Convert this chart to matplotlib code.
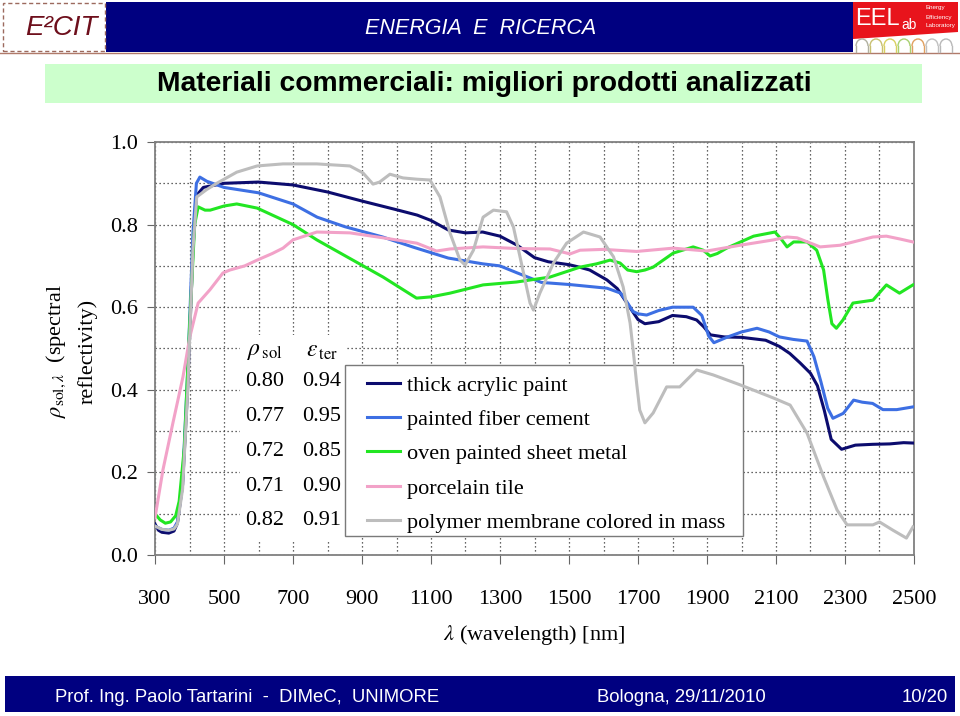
import matplotlib
matplotlib.use('Agg')
import matplotlib.pyplot as plt
from matplotlib.patches import Rectangle, Arc, Polygon
from matplotlib.ticker import MultipleLocator, FormatStrFormatter
from matplotlib.lines import Line2D

plt.rcParams['mathtext.fontset'] = 'stix'

SERIF = ['Liberation Serif', 'DejaVu Serif']
SANS = ['Liberation Sans', 'DejaVu Sans']

# --- data ---
labels = ['thick acrylic paint', 'painted fiber cement', 'oven painted sheet metal',
          'porcelain tile', 'polymer membrane colored in mass']
colors = ['#0c0c6e', '#3d6fe3', '#22e622', '#f2a2c8', '#bdbdbd']
rho_sol = ['0.80', '0.77', '0.72', '0.71', '0.82']
eps_ter = ['0.94', '0.95', '0.85', '0.90', '0.91']
x_ticks = [300, 500, 700, 900, 1100, 1300, 1500, 1700, 1900, 2100, 2300, 2500]

acrylic_x = [300, 310, 320, 340, 355, 365, 380, 395, 410, 420, 440, 500, 600, 700, 800,
             900, 1000, 1060, 1100, 1150, 1200, 1250, 1300, 1350, 1400, 1440, 1500, 1530,
             1560, 1610, 1640, 1660, 1680, 1700, 1720, 1760, 1800, 1840, 1870, 1890, 1910,
             1950, 2000, 2070, 2110, 2140, 2170, 2200, 2220, 2240, 2260, 2290, 2330, 2380,
             2430, 2470, 2500]
acrylic_y = [0.075, 0.06, 0.055, 0.053, 0.058, 0.077, 0.17, 0.41, 0.74, 0.87, 0.89, 0.9,
             0.903, 0.896, 0.879, 0.857, 0.836, 0.823, 0.81, 0.787, 0.78, 0.782, 0.772, 0.75,
             0.72, 0.71, 0.703, 0.697, 0.69, 0.666, 0.645, 0.62, 0.595, 0.57, 0.56, 0.565,
             0.58, 0.577, 0.569, 0.553, 0.533, 0.528, 0.527, 0.52, 0.505, 0.488, 0.465, 0.44,
             0.41, 0.35, 0.28, 0.256, 0.266, 0.268, 0.269, 0.272, 0.271]

fiber_x = [300, 320, 340, 355, 365, 380, 395, 410, 420, 430, 450, 500, 600, 700, 770, 850,
           960, 1050, 1150, 1250, 1300, 1350, 1420, 1500, 1610, 1650, 1670, 1685, 1700, 1725,
           1760, 1800, 1860, 1885, 1905, 1920, 1960, 2000, 2045, 2080, 2110, 2150, 2190,
           2210, 2230, 2250, 2265, 2295, 2325, 2350, 2380, 2410, 2450, 2500]
fiber_y = [0.07, 0.062, 0.06, 0.065, 0.08, 0.18, 0.45, 0.78, 0.9, 0.915, 0.905, 0.89, 0.877,
           0.85, 0.818, 0.795, 0.77, 0.745, 0.719, 0.705, 0.7, 0.683, 0.66, 0.655, 0.646,
           0.634, 0.61, 0.59, 0.584, 0.581, 0.592, 0.6, 0.6, 0.58, 0.53, 0.514, 0.528, 0.54,
           0.549, 0.54, 0.528, 0.522, 0.518, 0.48, 0.42, 0.355, 0.331, 0.343, 0.375, 0.37,
           0.367, 0.352, 0.352, 0.359]

metal_x = [300, 315, 330, 345, 360, 370, 385, 400, 415, 425, 445, 460, 500, 537, 596, 700,
           769, 850, 961, 1058, 1100, 1155, 1251, 1348, 1445, 1532, 1580, 1619, 1648, 1670,
           1696, 1720, 1744, 1802, 1860, 1889, 1909, 1930, 1957, 2035, 2097, 2115, 2132,
           2151, 2190, 2218, 2238, 2250, 2262, 2275, 2294, 2323, 2381, 2420, 2458, 2497]
metal_y = [0.1, 0.085, 0.077, 0.08, 0.095, 0.13, 0.26, 0.55, 0.8, 0.843, 0.835, 0.835,
           0.845, 0.85, 0.84, 0.8, 0.763, 0.725, 0.673, 0.622, 0.625, 0.634, 0.654, 0.661,
           0.673, 0.697, 0.705, 0.714, 0.707, 0.69, 0.686, 0.69, 0.697, 0.731, 0.746, 0.738,
           0.724, 0.73, 0.743, 0.772, 0.782, 0.765, 0.746, 0.758, 0.758, 0.738, 0.69, 0.62,
           0.56, 0.549, 0.569, 0.61, 0.617, 0.654, 0.634, 0.654]

tile_x = [300, 306, 323, 352, 381, 401, 425, 459, 497, 517, 560, 596, 640, 671, 700, 769,
          865, 961, 1059, 1116, 1155, 1251, 1350, 1445, 1503, 1532, 1600, 1696, 1802, 1899,
          1996, 2093, 2132, 2161, 2228, 2286, 2381, 2420, 2460, 2497]
tile_y = [0.09, 0.12, 0.206, 0.32, 0.431, 0.528, 0.61, 0.642, 0.683, 0.69, 0.7, 0.714, 0.73,
          0.743, 0.763, 0.782, 0.78, 0.768, 0.755, 0.736, 0.741, 0.746, 0.742, 0.741, 0.729,
          0.738, 0.74, 0.735, 0.743, 0.736, 0.75, 0.763, 0.77, 0.768, 0.746, 0.75, 0.77,
          0.772, 0.765, 0.758]

membrane_x = [300, 320, 340, 355, 365, 380, 395, 410, 421, 450, 479, 537, 596, 671, 769, 865,
              903, 932, 951, 981, 1019, 1058, 1097, 1126, 1155, 1184, 1199, 1223, 1251, 1281,
              1319, 1339, 1358, 1387, 1397, 1416, 1455, 1493, 1542, 1590, 1629, 1657, 1677,
              1686, 1696, 1705, 1720, 1744, 1783, 1821, 1870, 1918, 1996, 2093, 2141, 2190,
              2238, 2277, 2306, 2381, 2400, 2439, 2478, 2497]
membrane_y = [0.07, 0.062, 0.06, 0.063, 0.075, 0.16, 0.4, 0.74, 0.867, 0.885, 0.9, 0.927,
              0.942, 0.947, 0.947, 0.942, 0.925, 0.898, 0.903, 0.922, 0.913, 0.91, 0.908,
              0.867, 0.78, 0.714, 0.702, 0.738, 0.818, 0.835, 0.831, 0.794, 0.722, 0.61,
              0.593, 0.635, 0.707, 0.755, 0.782, 0.77, 0.722, 0.649, 0.562, 0.496, 0.416,
              0.351, 0.32, 0.344, 0.407, 0.407, 0.448, 0.436, 0.412, 0.38, 0.363, 0.295,
              0.189, 0.109, 0.073, 0.073, 0.08, 0.06, 0.041, 0.068]

series_x = [acrylic_x, fiber_x, metal_x, tile_x, membrane_x]
series_y = [acrylic_y, fiber_y, metal_y, tile_y, membrane_y]

# --- slide geometry in pixels ---
W, H = 960, 716


def fx(px):
    return px / W


def fy(py):
    return 1 - py / H


fig = plt.figure(figsize=(W / 100, H / 100), dpi=100)
fig.patch.set_facecolor('white')

# header
fig.add_artist(Rectangle((fx(106), fy(52)), (853 - 106) / W, 50 / H, transform=fig.transFigure,
                         facecolor='#000080', edgecolor='none'))
fig.add_artist(Rectangle((fx(3), fy(51)), 102 / W, 48 / H, transform=fig.transFigure,
                         facecolor='white', edgecolor='#9c6a5e', linestyle=(0, (3, 2)), lw=1))
fig.add_artist(Line2D([0, 1], [fy(53), fy(53)], transform=fig.transFigure, color='#b07a6a', lw=1))
fig.text(fx(61), fy(28), 'E²CIT', color='#6e0f1c', style='italic', family=SANS, size=20,
         ha='center', va='center')
fig.text(fx(481), fy(28), 'ENERGIA  E  RICERCA', color='white', style='italic', family=SANS,
         size=15.5, ha='center', va='center')

# EELab logo
fig.add_artist(Polygon([(fx(853), fy(2)), (fx(958), fy(2)), (fx(958), fy(32)), (fx(853), fy(39))],
                       closed=True, transform=fig.transFigure, facecolor='#e8141c', edgecolor='none'))
fig.text(fx(855), fy(19), 'EEL', color='white', family=SANS, size=17, ha='left', va='center')
fig.text(fx(901), fy(25), 'ab', color='white', family=SANS, size=10, ha='left', va='center')
for i, word in enumerate(['Energy', 'Efficiency', 'Laboratory']):
    fig.text(fx(925), fy(8 + 9 * i), word, color='white', family=SANS, size=4.5,
             ha='left', va='center')
arch_colors = ['#b0b0a0', '#c8c070', '#d8d060', '#a8d070', '#e0a060', '#c0c0c0', '#b8b8b8']
for i, c in enumerate(arch_colors):
    cx = 862 + i * 14
    fig.add_artist(Arc((fx(cx), fy(46)), 12 / W, 14 / H, theta1=0, theta2=180,
                       transform=fig.transFigure, color=c, lw=1))
    fig.add_artist(Line2D([fx(cx - 6), fx(cx - 6)], [fy(46), fy(52)], transform=fig.transFigure,
                          color=c, lw=1))
    fig.add_artist(Line2D([fx(cx + 6), fx(cx + 6)], [fy(46), fy(52)], transform=fig.transFigure,
                          color=c, lw=1))

# title strip
fig.add_artist(Rectangle((fx(45), fy(103)), (922 - 45) / W, 39 / H, transform=fig.transFigure,
                         facecolor='#ccffcc', edgecolor='none'))
fig.text(fx(484), fy(84), 'Materiali commerciali: migliori prodotti analizzati', color='black',
         weight='bold', family=SANS, size=20.3, ha='center', va='center')

# footer
fig.add_artist(Rectangle((fx(5), fy(712)), 950 / W, 36 / H, transform=fig.transFigure,
                         facecolor='#000080', edgecolor='none'))
fig.text(fx(55), fy(697), 'Prof. Ing. Paolo Tartarini  -  DIMeC,  UNIMORE', color='white',
         family=SANS, size=13.3, ha='left', va='center')
fig.text(fx(597), fy(697), 'Bologna, 29/11/2010', color='white', family=SANS, size=13.3,
         ha='left', va='center')
fig.text(fx(948), fy(697), '10/20', color='white', family=SANS, size=13.3, ha='right',
         va='center')

# --- chart ---
ax = fig.add_axes([fx(155), fy(555), (914 - 155) / W, (555 - 142) / H])
ax.set_xlim(300, 2500)
ax.set_ylim(0, 1.0)

handles = []
for xs, ys, c, lab in zip(series_x, series_y, colors, labels):
    line, = ax.plot(xs, ys, color=c, lw=2.2, label=lab, zorder=3, solid_joinstyle='round')
    handles.append(line)

ax.set_xticks(x_ticks)
ax.xaxis.set_minor_locator(MultipleLocator(100))
ax.yaxis.set_major_locator(MultipleLocator(0.2))
ax.yaxis.set_minor_locator(MultipleLocator(0.1))
ax.yaxis.set_major_formatter(FormatStrFormatter('%.1f'))
ax.set_axisbelow(True)
ax.grid(which='both', color='#333333', linestyle=(0, (1, 2.2)), lw=0.9)

ax.tick_params(axis='x', which='major', direction='out', length=6.5, pad=19, color='#666666',
               labelsize=16)
ax.tick_params(axis='y', which='major', direction='out', length=6, pad=6, color='#666666',
               labelsize=16)
ax.tick_params(which='minor', length=0)
for lab in ax.get_xticklabels() + ax.get_yticklabels():
    lab.set_family(SERIF)
for spine in ax.spines.values():
    spine.set_color('#808080')
    spine.set_linewidth(1.3)


def ax_x(px):
    return (px - 155) / (914 - 155)


def ax_y(py):
    return (555 - py) / (555 - 142)


# white backgrounds behind the table and the legend
ax.add_patch(Rectangle((ax_x(240), ax_y(540)), ax_x(345) - ax_x(240), ax_y(335) - ax_y(540),
                       transform=ax.transAxes, facecolor='white', edgecolor='none', zorder=1.5))
ax.add_patch(Rectangle((ax_x(345), ax_y(536)), ax_x(743) - ax_x(345), ax_y(365) - ax_y(536),
                       transform=ax.transAxes, facecolor='white', edgecolor='#7a7a7a', lw=1,
                       zorder=1.6))

ax.legend(handles, labels, loc='upper left', bbox_to_anchor=(ax_x(367), ax_y(375)),
          frameon=False, borderpad=0, borderaxespad=0, handlelength=1.5, handletextpad=0.32,
          labelspacing=0.62, prop={'family': SERIF, 'size': 16})

# rho_sol / eps_ter table
fig.text(fx(247), fy(352), r'$\rho_{\,\mathrm{sol}}$', family=SERIF, size=17, ha='left',
         va='center')
fig.text(fx(306), fy(352), r'$\varepsilon_{\,\mathrm{ter}}$', family=SERIF, size=17, ha='left',
         va='center')
for i, (r, e) in enumerate(zip(rho_sol, eps_ter)):
    yy = 382 + i * 34.7
    fig.text(fx(245), fy(yy), r, family=SERIF, size=16, ha='left', va='center')
    fig.text(fx(302), fy(yy), e, family=SERIF, size=16, ha='left', va='center')

ax.set_xlabel(r'$\lambda$ (wavelength) [nm]', family=SERIF, size=16, labelpad=9.5)
fig.text(fx(56), fy(351), r'$\rho_{\mathrm{sol},\lambda}$  (spectral', rotation=90, family=SERIF,
         size=16, ha='center', va='center')
fig.text(fx(88), fy(351), 'reflectivity)', rotation=90, family=SERIF, size=16, ha='center',
         va='center')

fig.savefig('out.png', dpi=100)
plt.close(fig)
